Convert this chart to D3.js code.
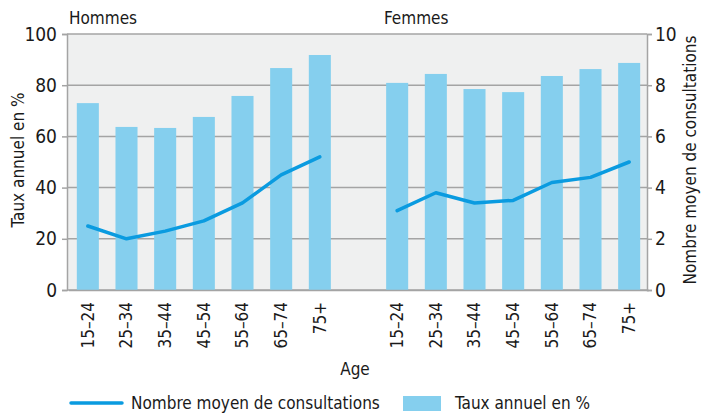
<!DOCTYPE html>
<html>
<head>
<meta charset="utf-8">
<script src="https://cdn.jsdelivr.net/npm/d3@7"></script>
<style>
  body { margin: 0; background: #fff; }
  svg text { font-family: "Liberation Sans Narrow", "DejaVu Sans Condensed", "Liberation Sans", sans-serif; fill: #1a1a1a; }
</style>
</head>
<body>
<svg id="chart" width="708" height="413"></svg>
<script>
// age groups, shown once for each sex
const ageGroups = ['15–24', '25–34', '35–44', '45–54', '55–64', '65–74', '75+'];
const groups = ['Hommes', 'Femmes'];

// Taux annuel en % (bars, left axis)
const tauxHommes = [73.0, 63.7, 63.3, 67.6, 75.8, 86.7, 91.8];
const tauxFemmes = [80.9, 84.4, 78.5, 77.3, 83.6, 86.3, 88.7];

// Nombre moyen de consultations (line, right axis)
const consultHommes = [2.5, 2.0, 2.3, 2.7, 3.4, 4.5, 5.2];
const consultFemmes = [3.1, 3.8, 3.4, 3.5, 4.2, 4.4, 5.0];

const leftTicks = [0, 20, 40, 60, 80, 100];
const rightTicks = [0, 2, 4, 6, 8, 10];

const svg = d3.select('#chart');
const margin = { top: 34, right: 61, bottom: 123, left: 67 };
const width = 708, height = 413;
const plotW = width - margin.left - margin.right;
const plotH = height - margin.top - margin.bottom;

const BAR = '#85cfee', LINE = '#0a9be0', GRID = '#a4a4a4', BG = '#eff0f0';

// 15 slots: 7 Hommes, 1 empty, 7 Femmes
const slots = [];
ageGroups.forEach(a => slots.push('H|' + a));
slots.push('gap');
ageGroups.forEach(a => slots.push('F|' + a));

const x = d3.scaleBand().domain(slots).range([1.5, plotW + 1.5]).paddingInner(0.43).paddingOuter(0.215);
const yL = d3.scaleLinear().domain([0, 100]).range([plotH, 0]);
const yR = d3.scaleLinear().domain([0, 10]).range([plotH, 0]);

const g = svg.append('g').attr('transform', `translate(${margin.left},${margin.top})`);

g.append('rect').attr('width', plotW).attr('height', plotH).attr('fill', BG);

// gridlines
g.selectAll('.grid').data(leftTicks).enter().append('line')
  .attr('x1', 0).attr('x2', plotW)
  .attr('y1', d => yL(d)).attr('y2', d => yL(d))
  .attr('stroke', GRID).attr('stroke-width', 1.5);

const rows = [
  { key: 'H', taux: tauxHommes, consult: consultHommes },
  { key: 'F', taux: tauxFemmes, consult: consultFemmes }
];

rows.forEach(r => {
  const data = ageGroups.map((a, i) => ({ slot: r.key + '|' + a, taux: r.taux[i], consult: r.consult[i] }));
  g.append('g').selectAll('rect').data(data).enter().append('rect')
    .attr('x', d => x(d.slot))
    .attr('width', x.bandwidth())
    .attr('y', d => yL(d.taux))
    .attr('height', d => plotH - yL(d.taux))
    .attr('fill', BAR);
  r.data = data;
});

const line = d3.line()
  .x(d => x(d.slot) + x.bandwidth() / 2)
  .y(d => yR(d.consult));

rows.forEach(r => {
  g.append('path').datum(r.data)
    .attr('d', line)
    .attr('fill', 'none')
    .attr('stroke', LINE)
    .attr('stroke-width', 3.5)
    .attr('stroke-linejoin', 'round')
    .attr('stroke-linecap', 'round');
});

// axes
const axisL = g.append('g').call(d3.axisLeft(yL).tickValues(leftTicks).tickSize(5).tickPadding(5));
const axisR = g.append('g').attr('transform', `translate(${plotW},0)`)
  .call(d3.axisRight(yR).tickValues(rightTicks).tickSize(5).tickPadding(3));
[axisL, axisR].forEach(a => {
  a.select('.domain').attr('stroke', GRID).attr('stroke-width', 1.5);
  a.selectAll('.tick line').attr('stroke', GRID).attr('stroke-width', 1.5);
  a.selectAll('.tick text').attr('font-size', 19).attr('fill', '#1a1a1a');
});

const axisB = g.append('g').attr('transform', `translate(0,${plotH})`)
  .call(d3.axisBottom(x).tickSize(0).tickFormat(d => d === 'gap' ? '' : d.split('|')[1]));
axisB.select('.domain').attr('stroke', GRID).attr('stroke-width', 1.5);
axisB.selectAll('.tick text')
  .attr('font-size', 17)
  .attr('transform', 'rotate(-90)')
  .attr('text-anchor', 'end')
  .attr('x', -12).attr('y', 0).attr('dy', '0.35em');

// group labels
svg.append('text').attr('x', 69).attr('y', 24).attr('font-size', 17).text(groups[0]);
svg.append('text').attr('x', 384).attr('y', 24).attr('font-size', 17).text(groups[1]);

// axis titles
svg.append('text').attr('transform', 'translate(24,160) rotate(-90)')
  .attr('text-anchor', 'middle').attr('font-size', 17).text('Taux annuel en %');
svg.append('text').attr('transform', 'translate(696,160) rotate(-90)')
  .attr('text-anchor', 'middle').attr('font-size', 17).text('Nombre moyen de consultations');
svg.append('text').attr('x', 355).attr('y', 375)
  .attr('text-anchor', 'middle').attr('font-size', 17).text('Age');

// legend
const lg = svg.append('g');
lg.append('line').attr('x1', 71).attr('x2', 122).attr('y1', 403).attr('y2', 403)
  .attr('stroke', LINE).attr('stroke-width', 3.5).attr('stroke-linecap', 'round');
lg.append('text').attr('x', 131).attr('y', 409).attr('font-size', 17).text('Nombre moyen de consultations');
lg.append('rect').attr('x', 403).attr('y', 396).attr('width', 38).attr('height', 15).attr('fill', BAR);
lg.append('text').attr('x', 455).attr('y', 409).attr('font-size', 17).text('Taux annuel en %');
</script>
</body>
</html>
